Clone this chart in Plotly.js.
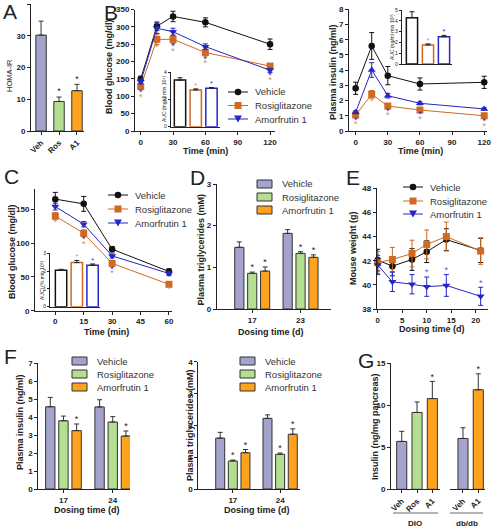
<!DOCTYPE html>
<html><head><meta charset="utf-8">
<script src="https://cdn.plot.ly/plotly-3.0.1.min.js"></script>
<style>html,body{margin:0;padding:0;background:#fff}#chart{width:492px;height:530px}</style>
</head><body><div id="chart"></div>
<script>
// ================= DATA =================
const seriesNames = ['Vehicle', 'Rosiglitazone', 'Amorfrutin 1'];

// A: HOMA-IR
const homaCats = ['Veh', 'Ros', 'A1'];
const homaVals = [30.2, 9.3, 12.7];
const homaErr = [4.4, 1.4, 2.0];
const homaSig = [0, 1, 1];

// B: oral glucose tolerance, blood glucose (mg/dl)
const ogttTime = [0, 15, 30, 60, 120];
const glucVeh = [150, 302, 330, 313, 250];
const glucVehErr = [8, 12, 15, 13, 15];
const glucRos = [128, 264, 264, 226, 187];
const glucRosErr = [8, 15, 12, 10, 6];
const glucA1 = [142, 296, 286, 243, 175];
const glucA1Err = [6, 15, 10, 8, 6];
const glucSigRos = [1, 1, 1, 1, 1];
const glucSigA1 = [1, 0, 1, 1, 1];
const glucAuc = [3.43, 2.7, 2.82];
const glucAucErr = [0.17, 0.08, 0.06];
const glucAucSig = [0, 1, 1];

// B: plasma insulin (ng/ml)
const insVeh = [2.81, 5.59, 3.64, 3.09, 3.2];
const insVehErr = [0.4, 0.88, 0.6, 0.4, 0.4];
const insRos = [1.05, 2.41, 1.64, 1.38, 1.0];
const insRosErr = [0.12, 0.25, 0.12, 0.1, 0.18];
const insA1 = [1.23, 4.01, 2.32, 1.82, 1.45];
const insA1Err = [0.1, 0.48, 0.15, 0.1, 0.08];
const insSigRos = [1, 1, 1, 1, 1];
const insSigA1 = [1, 0, 1, 1, 1];
const insAuc = [4.29, 1.76, 2.53];
const insAucErr = [0.55, 0.1, 0.12];
const insAucSig = [0, 1, 1];

// C: insulin tolerance, blood glucose (mg/dl)
const ittTime = [0, 15, 30, 60];
const ittVeh = [165, 158, 91, 58];
const ittVehErr = [10, 11, 4, 4];
const ittRos = [140, 114.5, 70, 39];
const ittRosErr = [5, 5, 4, 3];
const ittA1 = [154, 128, 81, 55];
const ittA1Err = [5, 4, 3, 3];
const ittSigRos = [1, 1, 1, 1];
const ittSigA1 = [0, 1, 1, 0];
const ittAuc = [2.05, 2.48, 2.33];
const ittAucErr = [0.05, 0.12, 0.07];
const ittAucSig = [0, 1, 1];

// D: plasma triglycerides (mM)
const tgDays = ['17', '23'];
const tgVeh = [1.48, 1.815];
const tgVehErr = [0.13, 0.09];
const tgRos = [0.856, 1.335];
const tgRosErr = [0.03, 0.04];
const tgA1 = [0.91, 1.24];
const tgA1Err = [0.1, 0.06];
const tgSig = [[0, 0], [1, 1], [1, 1]];

// E: mouse weight (g)
const bwDays = [0, 3, 7, 10, 14, 21];
const bwVeh = [42.05, 41.55, 42.1, 42.75, 43.75, 42.85];
const bwVehErr = [0.9, 0.8, 0.9, 0.9, 0.9, 1.0];
const bwRos = [41.85, 42.1, 42.6, 43.35, 44.0, 42.8];
const bwRosErr = [0.9, 1.0, 1.1, 1.2, 1.2, 1.1];
const bwA1 = [41.65, 40.25, 40.05, 39.85, 39.95, 39.05];
const bwA1Err = [0.8, 0.8, 0.8, 0.8, 0.9, 0.75];
const bwSigA1 = [0, 0, 0, 1, 1, 1];

// F: plasma insulin (ng/ml) and triglycerides (mM)
const fDays = ['17', '24'];
const fInsVeh = [4.58, 4.57];
const fInsVehErr = [0.52, 0.4];
const fInsRos = [3.8, 3.73];
const fInsRosErr = [0.26, 0.3];
const fInsA1 = [3.25, 2.95];
const fInsA1Err = [0.37, 0.28];
const fInsSig = [[0, 0], [0, 0], [1, 1]];
const fTgVeh = [1.6, 2.22];
const fTgVehErr = [0.18, 0.11];
const fTgRos = [0.88, 1.09];
const fTgRosErr = [0.03, 0.04];
const fTgA1 = [1.14, 1.72];
const fTgA1Err = [0.1, 0.17];
const fTgSig = [[0, 0], [1, 1], [1, 1]];

// G: pancreatic insulin (ng/mg pancreas)
const gDioCats = ['Veh', 'Ros', 'A1'];
const gDioVals = [5.7, 9.15, 10.8];
const gDioErr = [1.2, 1.25, 2.05];
const gDioSig = [0, 0, 1];
const gDbCats = ['Veh', 'A1'];
const gDbVals = [6.05, 11.85];
const gDbErr = [1.28, 1.9];
const gDbSig = [0, 1];
const gGroups = ['DIO', 'db/db'];

// ================= STYLE =================
const W = 492, H = 530;
const FONT = 'Arial, "Liberation Sans", sans-serif';
const INK = '#222';
const barColors = ['#a3a3cc', '#b4de90', '#ffa31f'];
const lineColors = ['#111111', '#cf6a24', '#2626c4'];
const lineSymbols = ['circle', 'square', 'triangle-down'];

const layout = {
  width: W, height: H, margin: {l: 0, r: 0, t: 0, b: 0},
  paper_bgcolor: '#fff', plot_bgcolor: 'rgba(0,0,0,0)',
  showlegend: false, barmode: 'overlay',
  font: {family: FONT, color: INK},
  annotations: [], shapes: []
};
const PX = {};
function baseAxis(small) {
  return {
    showgrid: false, zeroline: false, showline: true, linecolor: INK, linewidth: 1,
    ticks: 'outside', ticklen: small ? 2 : 3, tickwidth: 1, tickcolor: INK,
    tickfont: {family: FONT, size: small ? 5 : 8, color: INK, weight: small ? 'normal' : 'bold'},
    fixedrange: true, automargin: false
  };
}
function addAxes(n, xpx, ypx, xr, yr, xo, yo, small) {
  const sfx = n === 1 ? '' : String(n);
  const xid = 'x' + sfx, yid = 'y' + sfx;
  layout['xaxis' + sfx] = Object.assign(baseAxis(small), {domain: [xpx[0] / W, xpx[1] / W], range: xr, anchor: yid}, xo || {});
  layout['yaxis' + sfx] = Object.assign(baseAxis(small), {domain: [1 - ypx[1] / H, 1 - ypx[0] / H], range: yr, anchor: xid}, yo || {});
  PX[yid] = (ypx[1] - ypx[0]) / (yr[1] - yr[0]);
  return {x: xid, y: yid};
}
function ann(text, xpx, ypx, o) {
  o = o || {};
  layout.annotations.push({
    text: text, x: xpx / W, y: 1 - ypx / H, xref: 'paper', yref: 'paper', showarrow: false,
    xanchor: o.xanchor || 'center', yanchor: 'middle', textangle: o.angle || 0,
    font: {family: FONT, size: o.size || 9, color: o.color || INK, weight: o.weight || 'normal'}
  });
}
const traces = [];
function lineTrace(ax, x, y, err, s, sym) {
  traces.push({
    type: 'scatter', mode: 'lines+markers', x: x, y: y, xaxis: ax.x, yaxis: ax.y, cliponaxis: false,
    name: seriesNames[s], line: {color: lineColors[s], width: 1},
    marker: {symbol: sym || lineSymbols[s], size: s === 0 ? 6.5 : 7, color: lineColors[s]},
    error_y: {type: 'data', array: err, color: lineColors[s], thickness: 1, width: 2.5},
    hoverinfo: 'skip'
  });
}
function barTrace(ax, x, y, err, fill, outline, lw, width) {
  traces.push({
    type: 'bar', x: x, y: y, xaxis: ax.x, yaxis: ax.y, width: width,
    marker: {color: fill, line: {color: outline, width: lw}},
    error_y: {type: 'data', symmetric: false, array: err, arrayminus: err.map(() => 0),
      color: Array.isArray(outline) ? INK : outline, thickness: 1, width: 2.5},
    hoverinfo: 'skip'
  });
}
function starTrace(ax, xs, ys, color, size) {
  if (!xs.length) return;
  traces.push({
    type: 'scatter', mode: 'text', x: xs, y: ys, text: xs.map(() => '*'), xaxis: ax.x, yaxis: ax.y,
    cliponaxis: false, textposition: 'middle center',
    textfont: {family: FONT, size: size || 9, color: color}, hoverinfo: 'skip'
  });
}
// stars above bar error bars
function barStars(ax, xs, vals, errs, sig, color, gapPx, size) {
  const sx = [], sy = [];
  xs.forEach((x, i) => { if (sig[i]) { sx.push(x); sy.push(vals[i] + errs[i] + gapPx / PX[ax.y]); } });
  starTrace(ax, sx, sy, color, size);
}
// stars stacked below the lowest treated series at each time point
function stackStars(ax, x, groups, g1, g2) {
  groups.forEach(g => { g.sx = []; g.sy = []; });
  x.forEach((t, i) => {
    const base = Math.min(...groups.map(g => g.vals[i] - g.errs[i]));
    let k = 0;
    groups.forEach(g => {
      if (g.sig[i]) { g.sx.push(t); g.sy.push(base - (g1 + k * g2) / PX[ax.y]); k++; }
    });
  });
  groups.forEach(g => starTrace(ax, g.sx, g.sy, g.color, 9));
}
const idx = a => a.map((_, i) => i);
const STEP = 0.267, BW = 0.19;
const dodge = (arr, s) => arr.map((_, i) => i + (s - 1) * STEP);

// legends (drawn as layout decoration)
function lineLegend(x0, rows, syms) {
  rows.forEach((y, s) => {
    const c = lineColors[s];
    layout.shapes.push({type: 'line', xref: 'paper', yref: 'paper', x0: x0 / W, x1: (x0 + 20) / W, y0: 1 - y / H, y1: 1 - y / H, line: {color: c, width: 1}});
    const cx = x0 + 10, r = 3.3;
    const sym = syms[s];
    if (sym === 'circle') {
      layout.shapes.push({type: 'circle', xref: 'paper', yref: 'paper', x0: (cx - r) / W, x1: (cx + r) / W, y0: 1 - (y + r) / H, y1: 1 - (y - r) / H, fillcolor: c, line: {width: 0}});
    } else if (sym === 'square') {
      layout.shapes.push({type: 'rect', xref: 'paper', yref: 'paper', x0: (cx - 3.5) / W, x1: (cx + 3.5) / W, y0: 1 - (y + 3.5) / H, y1: 1 - (y - 3.5) / H, fillcolor: c, line: {width: 0}});
    } else {
      const p = (px, py) => (px / W) + ',' + (1 - py / H);
      layout.shapes.push({type: 'path', xref: 'paper', yref: 'paper', path: 'M' + p(cx - 4, y - 3.5) + ' L' + p(cx + 4, y - 3.5) + ' L' + p(cx, y + 3.5) + ' Z', fillcolor: c, line: {width: 0}});
    }
    ann(seriesNames[s], x0 + 25, y, {xanchor: 'left', size: 9.5, color: '#333'});
  });
}
function barLegend(x0, rows) {
  rows.forEach((y, s) => {
    layout.shapes.push({type: 'rect', xref: 'paper', yref: 'paper', x0: x0 / W, x1: (x0 + 15) / W, y0: 1 - (y + 4) / H, y1: 1 - (y - 4) / H, fillcolor: barColors[s], line: {color: '#333', width: 1}});
    ann(seriesNames[s], x0 + 23, y, {xanchor: 'left', size: 9.5, color: '#333'});
  });
}

// ================= PANEL A =================
const aA = addAxes(1, [31, 84], [4, 131], [-0.56, 2.39], [0, 40],
  {tickvals: idx(homaCats), ticktext: homaCats, tickangle: -45}, {dtick: 10});
barTrace(aA, idx(homaCats), homaVals, homaErr, barColors, '#333', 1, 0.58);
barStars(aA, idx(homaCats), homaVals, homaErr, homaSig, INK, 5, 9);
ann('HOMA-IR', 10, 76, {angle: -90, size: 7.5});
ann('A', 1, 12, {xanchor: 'left', size: 21});

// ================= PANEL B glucose =================
const aB = addAxes(2, [135, 275], [9.5, 131], [-5.3, 124.6], [0, 350],
  {tickvals: [0, 30, 60, 90, 120]}, {dtick: 50});
lineTrace(aB, ogttTime, glucVeh, glucVehErr, 0);
lineTrace(aB, ogttTime, glucRos, glucRosErr, 1);
lineTrace(aB, ogttTime, glucA1, glucA1Err, 2);
stackStars(aB, ogttTime, [
  {vals: glucA1, errs: glucA1Err, sig: glucSigA1, color: lineColors[2]},
  {vals: glucRos, errs: glucRosErr, sig: glucSigRos, color: '#d98a50'}], 3.5, 4.5);
const aBi = addAxes(3, [170.7, 220], [72.3, 126.7], [-0.59, 2.54], [0, 4],
  {showticklabels: false, ticks: ''}, {tickvals: [0, 2, 4], ticklen: 2}, true);
barTrace(aBi, idx(glucAuc), glucAuc, glucAucErr, '#fff', lineColors, 1.5, 0.72);
barStars(aBi, [1], [glucAuc[1]], [glucAucErr[1]], [1], '#d98a50', 3, 7);
barStars(aBi, [2], [glucAuc[2]], [glucAucErr[2]], [1], lineColors[2], 3, 7);
ann('AUC (mg/dl min 10\u2074)', 164, 99, {angle: -90, size: 5});
ann('Blood glucose (mg/dl)', 109, 67, {angle: -90, size: 9, weight: 'bold'});
ann('Time (min)', 205, 151, {size: 9, weight: 'bold'});
ann('B', 102, 12.5, {xanchor: 'left', size: 21});
lineLegend(228, [92, 105.5, 119], lineSymbols);

// ================= PANEL B insulin =================
const aI = addAxes(4, [349, 487], [9.3, 131], [-6.2, 122.6], [0, 8],
  {tickvals: [0, 30, 60, 90, 120]}, {dtick: 1});
lineTrace(aI, ogttTime, insVeh, insVehErr, 0);
lineTrace(aI, ogttTime, insRos, insRosErr, 1);
lineTrace(aI, ogttTime, insA1, insA1Err, 2, 'triangle-up');
stackStars(aI, ogttTime, [
  {vals: insA1, errs: insA1Err, sig: insSigA1, color: lineColors[2]},
  {vals: insRos, errs: insRosErr, sig: insSigRos, color: '#d98a50'}], 3.5, 4.5);
const aIi = addAxes(5, [401.7, 452], [10, 64], [-0.64, 2.5], [0, 5],
  {showticklabels: false, ticks: ''}, {dtick: 1, ticklen: 2}, true);
barTrace(aIi, idx(insAuc), insAuc, insAucErr, '#fff', lineColors, 1.5, 0.7);
barStars(aIi, [1], [insAuc[1]], [insAucErr[1]], [1], '#d98a50', 3, 7);
barStars(aIi, [2], [insAuc[2]], [insAucErr[2]], [1], lineColors[2], 3, 7);
ann('AUC (ng/ml min 10\u00b2)', 392, 37, {angle: -90, size: 5});
ann('Plasma insulin (ng/ml)', 333, 72, {angle: -90, size: 9, weight: 'bold'});
ann('Time (min)', 420, 151, {size: 9, weight: 'bold'});

// ================= PANEL C =================
const aC = addAxes(6, [35, 172], [189, 310.7], [-10.7, 61.6], [0, 180],
  {tickvals: [0, 15, 30, 45, 60]}, {tickvals: [0, 50, 100, 150]});
lineTrace(aC, ittTime, ittVeh, ittVehErr, 0);
lineTrace(aC, ittTime, ittRos, ittRosErr, 1);
lineTrace(aC, ittTime, ittA1, ittA1Err, 2);
stackStars(aC, ittTime, [
  {vals: ittA1, errs: ittA1Err, sig: ittSigA1, color: lineColors[2]},
  {vals: ittRos, errs: ittRosErr, sig: ittSigRos, color: '#d98a50'}], 3.5, 4.5);
const aCi = addAxes(7, [50, 100], [253.3, 306.7], [-0.7, 2.47], [0, 3],
  {showticklabels: false, ticks: ''}, {dtick: 1, ticklen: 2}, true);
barTrace(aCi, idx(ittAuc), ittAuc, ittAucErr, '#fff', lineColors, 1.5, 0.72);
barStars(aCi, [1], [ittAuc[1]], [ittAucErr[1]], [1], '#d98a50', 3, 7);
barStars(aCi, [2], [ittAuc[2]], [ittAucErr[2]], [1], lineColors[2], 3, 7);
ann('AUCI (% min 10\u00b3)', 42, 280, {angle: -90, size: 5});
ann('Blood glucose (mg/dl)', 12, 252, {angle: -90, size: 9, weight: 'bold'});
ann('Time (min)', 106, 332, {size: 9, weight: 'bold'});
ann('C', 2, 176.5, {xanchor: 'left', size: 21});
lineLegend(108, [195, 209, 223], lineSymbols);

// ================= PANEL D =================
const aD = addAxes(8, [216.7, 331], [184, 309], [-0.735, 1.63], [0, 3],
  {tickvals: idx(tgDays), ticktext: tgDays}, {dtick: 1});
[[tgVeh, tgVehErr], [tgRos, tgRosErr], [tgA1, tgA1Err]].forEach((d, s) => {
  barTrace(aD, dodge(tgDays, s), d[0], d[1], barColors[s], '#333', 1, BW);
  barStars(aD, dodge(tgDays, s), d[0], d[1], tgSig[s], INK, 4, 9);
});
ann('Plasma triglycerides (mM)', 200.5, 250, {angle: -90, size: 9, weight: 'bold'});
ann('Dosing time (d)', 271, 332, {size: 9, weight: 'bold'});
ann('D', 188, 178, {xanchor: 'left', size: 21});
barLegend(257, [184, 197, 210]);

// ================= PANEL E =================
const aE = addAxes(9, [376.7, 488], [188.3, 309], [-0.2, 22.5], [38, 48],
  {tickvals: [0, 5, 10, 15, 20]}, {dtick: 2});
lineTrace(aE, bwDays, bwVeh, bwVehErr, 0);
lineTrace(aE, bwDays, bwRos, bwRosErr, 1);
lineTrace(aE, bwDays, bwA1, bwA1Err, 2);
barStars(aE, bwDays, bwA1, bwA1Err, bwSigA1, '#5a5ad0', 4, 9);
ann('Mouse weight (g)', 353, 248, {angle: -90, size: 9, weight: 'bold'});
ann('Dosing time (d)', 432, 329, {size: 9, weight: 'bold'});
ann('E', 344, 177.5, {xanchor: 'left', size: 21});
lineLegend(403, [187, 201, 214], lineSymbols);

// ================= PANEL F left =================
const aF1 = addAxes(10, [38.3, 130], [363.3, 489], [-0.51, 1.35], [0, 7],
  {tickvals: idx(fDays), ticktext: fDays}, {dtick: 1});
[[fInsVeh, fInsVehErr], [fInsRos, fInsRosErr], [fInsA1, fInsA1Err]].forEach((d, s) => {
  barTrace(aF1, dodge(fDays, s), d[0], d[1], barColors[s], '#333', 1, BW);
  barStars(aF1, dodge(fDays, s), d[0], d[1], fInsSig[s], INK, 4, 9);
});
ann('Plasma insulin (ng/ml)', 20, 422, {angle: -90, size: 9, weight: 'bold'});
ann('Dosing time (d)', 87, 510, {size: 9, weight: 'bold'});
ann('F', 2, 356.7, {xanchor: 'left', size: 21});
barLegend(72, [361, 374, 387]);

// ================= PANEL F right =================
const aF2 = addAxes(11, [198.3, 300], [361.7, 489], [-0.73, 1.42], [0, 4],
  {tickvals: idx(fDays), ticktext: fDays}, {dtick: 1});
[[fTgVeh, fTgVehErr], [fTgRos, fTgRosErr], [fTgA1, fTgA1Err]].forEach((d, s) => {
  barTrace(aF2, dodge(fDays, s), d[0], d[1], barColors[s], '#333', 1, BW);
  barStars(aF2, dodge(fDays, s), d[0], d[1], fTgSig[s], INK, 4, 9);
});
ann('Plasma triglycerides (mM)', 190, 425, {angle: -90, size: 9, weight: 'bold'});
ann('Dosing time (d)', 257, 510, {size: 9, weight: 'bold'});
barLegend(240, [361, 374, 387]);

// ================= PANEL G =================
const aG = addAxes(12, [391, 440], [363.3, 489.3], [-0.7, 2.5], [0, 15],
  {tickvals: idx(gDioCats), ticktext: gDioCats, tickangle: -45}, {dtick: 5});
layout.xaxis13 = Object.assign(baseAxis(false), {domain: [450 / W, 485 / W], range: [-0.85, 1.44], anchor: 'y12',
  tickvals: idx(gDbCats), ticktext: gDbCats, tickangle: -45});
const aG2 = {x: 'x13', y: 'y12'};
barTrace(aG, idx(gDioCats), gDioVals, gDioErr, barColors, '#333', 1, 0.66);
barStars(aG, idx(gDioCats), gDioVals, gDioErr, gDioSig, INK, 4, 9);
barTrace(aG2, idx(gDbCats), gDbVals, gDbErr, [barColors[0], barColors[2]], '#333', 1, 0.66);
barStars(aG2, idx(gDbCats), gDbVals, gDbErr, gDbSig, INK, 4, 9);
layout.shapes.push({type: 'line', xref: 'paper', yref: 'paper', x0: 393 / W, x1: 438 / W, y0: 1 - 513 / H, y1: 1 - 513 / H, line: {color: '#666', width: 1}});
layout.shapes.push({type: 'line', xref: 'paper', yref: 'paper', x0: 450 / W, x1: 483 / W, y0: 1 - 513 / H, y1: 1 - 513 / H, line: {color: '#666', width: 1}});
ann(gGroups[0], 415, 523.5, {size: 8, weight: 'bold'});
ann(gGroups[1], 466.5, 523.5, {size: 8, weight: 'bold'});
ann('Insulin (ng/mg pancreas)', 375, 427, {angle: -90, size: 9, weight: 'bold'});
ann('G', 356, 360, {xanchor: 'left', size: 21});

Plotly.newPlot('chart', traces, layout, {staticPlot: true, displayModeBar: false});
</script>
</body></html>
